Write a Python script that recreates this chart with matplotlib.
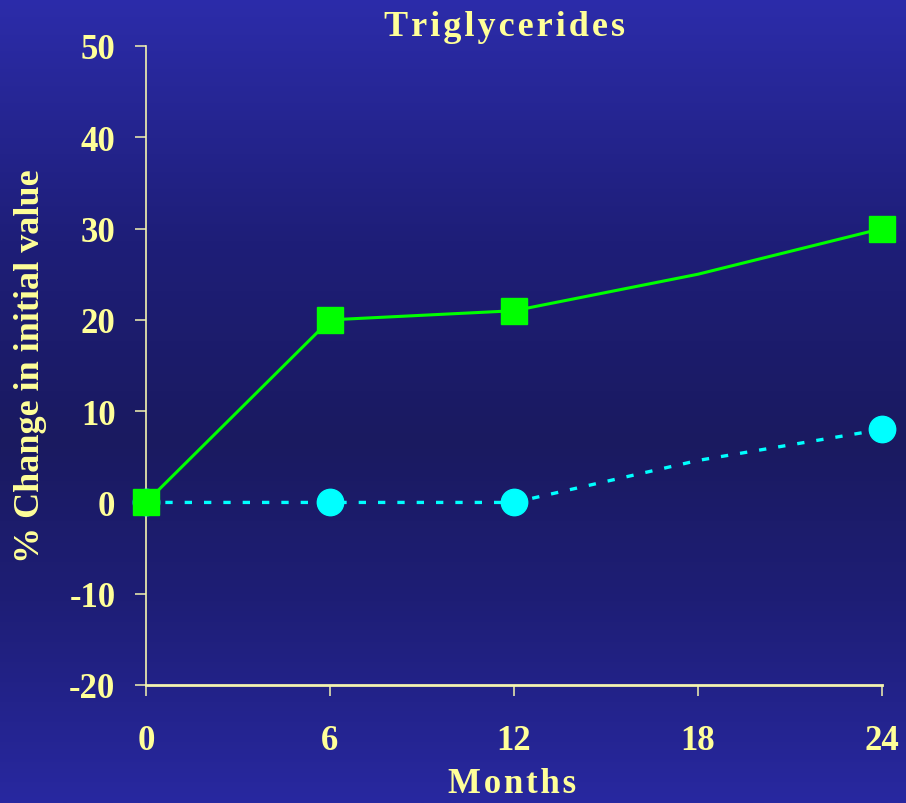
import matplotlib
matplotlib.use("Agg")
import matplotlib.pyplot as plt
import numpy as np

plt.rcParams['axes.unicode_minus'] = False

# values
months = [0, 6, 12, 18, 24]
green_pct = [0, 20, 21, 25, 30]
cyan_pct = [0, 0, 0, 4.6, 8]
marked = [0, 1, 2, 4]  # no marker drawn at 18 months
x_ticks = [0, 6, 12, 18, 24]
y_ticks = [-20, -10, 0, 10, 20, 30, 40, 50]

txt_col = '#FFFF99'
axis_col = '#F4F4B0'
font = ['Liberation Serif', 'DejaVu Serif']


def spaced(s):
    # slide text is letter-spaced a little
    return '\u200a'.join(s)


fig = plt.figure(figsize=(9.06, 8.04), dpi=100)

# vertical blue gradient behind everything
bg = fig.add_axes([0, 0, 1, 1], zorder=-10)
stops = np.array([[44, 44, 170], [30, 30, 120], [26, 26, 96], [30, 30, 118], [40, 40, 160]]) / 255.0
pos = np.array([0.0, 0.3, 0.55, 0.75, 1.0])
t = np.linspace(0, 1, 400)
grad = np.stack([np.interp(t, pos, stops[:, c]) for c in range(3)], axis=1)
bg.imshow(grad[:, None, :], aspect='auto', extent=[0, 1, 0, 1])
bg.axis('off')

ax = fig.add_axes([146 / 906, 1 - 686 / 804, 736 / 906, 639 / 804])
ax.set_facecolor('none')

ax.plot(months, cyan_pct, color='#00FFFF', lw=2.4, ls=(0, (2.2, 3.6)),
        marker='o', ms=19, markevery=marked, clip_on=False, zorder=3)
ax.plot(months, green_pct, color='#00FF00', lw=2.2,
        marker='s', ms=19, markevery=marked, clip_on=False, zorder=4)

ax.set_xlim(0, 24)
ax.set_ylim(-20, 50)
ax.set_xticks(x_ticks)
ax.set_yticks(y_ticks)

for side in ['top', 'right']:
    ax.spines[side].set_visible(False)
ax.spines['left'].set_color(axis_col)
ax.spines['left'].set_linewidth(1.2)
ax.spines['bottom'].set_color(axis_col)
ax.spines['bottom'].set_linewidth(2.0)

ax.tick_params(axis='x', direction='out', length=8, width=1.1, color=axis_col, pad=20)
ax.tick_params(axis='y', direction='out', length=8, width=1.1, color=axis_col, pad=14)
for lab in ax.get_xticklabels() + ax.get_yticklabels():
    lab.set_fontfamily(font)
    lab.set_fontweight('bold')
    lab.set_fontsize(25)
    lab.set_color(txt_col)

fig.text(505 / 906, 1 - 28 / 804, spaced('Triglycerides'), ha='center', va='center',
         fontfamily=font, fontweight='bold', fontsize=26, color=txt_col)
fig.text(512 / 906, 1 - 785 / 804, spaced('Months'), ha='center', va='center',
         fontfamily=font, fontweight='bold', fontsize=25, color=txt_col)
fig.text(31 / 906, 1 - 366 / 804, '% Change in initial value', ha='center', va='center',
         rotation=90, fontfamily=font, fontweight='bold', fontsize=26, color=txt_col)

fig.savefig('out.png', dpi=100)
